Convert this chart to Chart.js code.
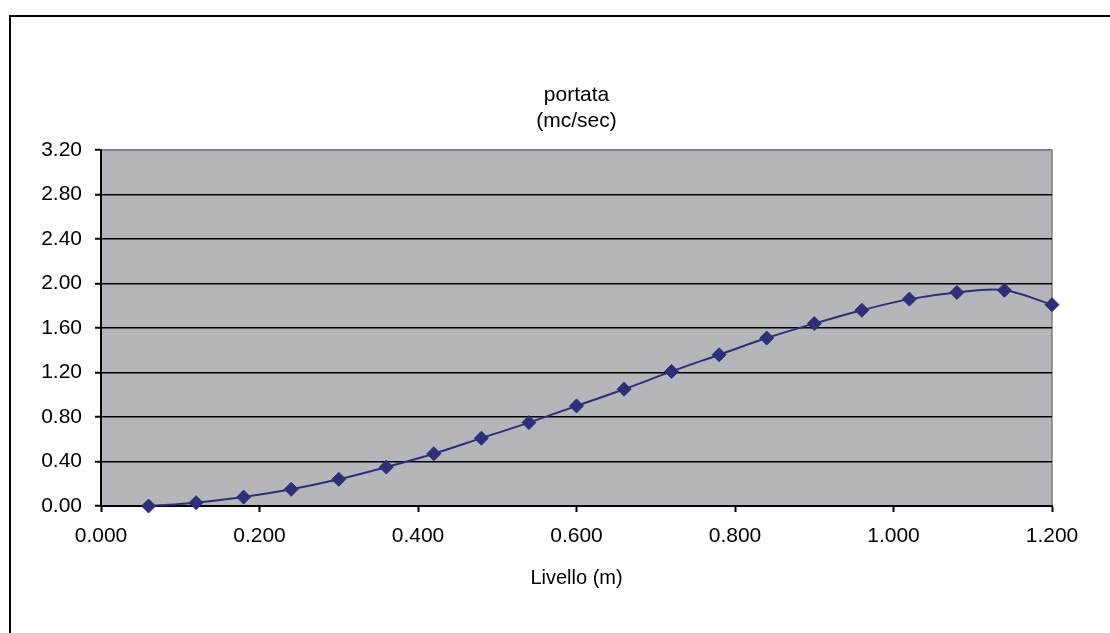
<!DOCTYPE html>
<html>
<head>
<meta charset="utf-8">
<script src="https://cdn.jsdelivr.net/npm/chart.js@4.4.1/dist/chart.umd.min.js"></script>
<style>
  html, body { margin: 0; padding: 0; background: #fff; }
  #wrap { position: relative; width: 1110px; height: 633px; overflow: hidden; }
  #frame { position: absolute; left: 9px; top: 15px; width: 1200px; height: 700px;
           border-top: 2px solid #000; border-left: 2px solid #000; }
  canvas { position: absolute; left: 0; top: 0; }
</style>
</head>
<body>
<div id="wrap">
  <div id="frame"></div>
  <canvas id="chart" width="1110" height="633"></canvas>
</div>
<script>
const livello = [0.06, 0.12, 0.18, 0.24, 0.30, 0.36, 0.42, 0.48, 0.54, 0.60,
                 0.66, 0.72, 0.78, 0.84, 0.90, 0.96, 1.02, 1.08, 1.14, 1.20];
const portata = [0.00, 0.03, 0.08, 0.15, 0.24, 0.35, 0.47, 0.61, 0.75, 0.90,
                 1.05, 1.21, 1.36, 1.51, 1.64, 1.76, 1.86, 1.92, 1.94, 1.81];
const titleLines = ["portata", "(mc/sec)"];
const xTitle = "Livello (m)";

const serie = "#2f2f78";
const font = "'Liberation Sans', Arial, sans-serif";

// sfondo grigio dell'area del grafico + bordo alto/destro
const plotBg = {
    id: "plotBg",
    beforeDraw(chart) {
        const { ctx, chartArea: a } = chart;
        ctx.save();
        ctx.fillStyle = "#b5b6ba";
        ctx.fillRect(a.left, a.top, a.right - a.left, a.bottom - a.top);
        ctx.strokeStyle = "#808080";
        ctx.lineWidth = 1.5;
        ctx.beginPath();
        ctx.moveTo(a.left, a.top);
        ctx.lineTo(a.right, a.top);
        ctx.lineTo(a.right, a.bottom);
        ctx.stroke();
        ctx.restore();
    }
};

new Chart(document.getElementById("chart"), {
    type: "line",
    data: {
        datasets: [{
            data: livello.map((x, i) => ({ x: x, y: portata[i] })),
            borderColor: serie,
            backgroundColor: serie,
            borderWidth: 2,
            pointStyle: "rectRot",
            pointRadius: 7,
            pointBorderWidth: 1,
            tension: 0.35,
            clip: false
        }]
    },
    plugins: [plotBg],
    options: {
        responsive: false,
        animation: false,
        layout: { padding: { left: 0, right: 58, top: 0, bottom: 0 } },
        plugins: {
            legend: { display: false },
            tooltip: { enabled: false },
            title: {
                display: true,
                text: titleLines,
                color: "#000",
                fullSize: false,
                font: { family: font, size: 21, weight: "normal", lineHeight: 1.24 },
                padding: { top: 82, bottom: 16 }
            }
        },
        scales: {
            x: {
                type: "linear",
                min: 0,
                max: 1.2,
                afterFit(s) { s.height = 127; },
                afterBuildTicks(s) { s.ticks = [0, 0.2, 0.4, 0.6, 0.8, 1.0, 1.2].map(v => ({ value: v })); },
                ticks: {
                    color: "#000",
                    padding: 12,
                    maxRotation: 0,
                    font: { family: font, size: 21 },
                    callback: v => Number(v).toFixed(3)
                },
                grid: { drawOnChartArea: false, drawTicks: true, tickLength: 6, tickColor: "#000", tickWidth: 2 },
                border: { color: "#000", width: 2 },
                title: {
                    display: true,
                    text: xTitle,
                    color: "#000",
                    font: { family: font, size: 20 },
                    padding: { top: 0, bottom: 43 }
                }
            },
            y: {
                min: 0,
                max: 3.2,
                afterFit(s) { s.width = 101; },
                afterBuildTicks(s) { s.ticks = [0, 0.4, 0.8, 1.2, 1.6, 2.0, 2.4, 2.8, 3.2].map(v => ({ value: v })); },
                ticks: {
                    color: "#000",
                    padding: 13,
                    font: { family: font, size: 21 },
                    callback: v => Number(v).toFixed(2)
                },
                grid: {
                    color: c => (c.tick && c.tick.value === 3.2) ? "#808080" : "#000",
                    lineWidth: 1.5,
                    tickLength: 6,
                    tickColor: "#000",
                    tickWidth: 2
                },
                border: { color: "#000", width: 2 }
            }
        }
    }
});
</script>
</body>
</html>
